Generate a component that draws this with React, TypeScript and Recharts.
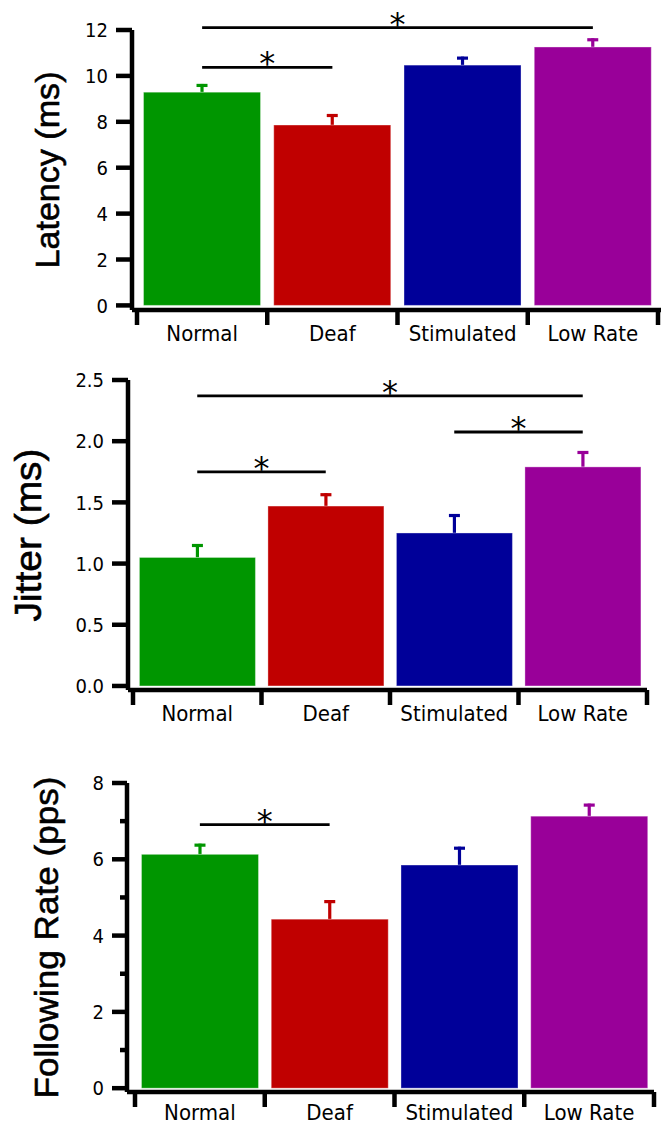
import React from 'react';
import { BarChart, Bar, XAxis, YAxis, Cell, ReferenceLine } from 'recharts';

const categories = ['Normal', 'Deaf', 'Stimulated', 'Low Rate'];
const barColors = ['#009600', '#c00000', '#000099', '#990099'];

const latencyMeans = [9.29, 7.86, 10.47, 11.26];
const latencyErrors = [0.36, 0.48, 0.37, 0.38];
const latencyTicks = [0, 2, 4, 6, 8, 10, 12];
const latencySig = [
  { from: 'Normal', to: 'Low Rate', level: 12.1 },
  { from: 'Normal', to: 'Deaf', level: 10.37 },
];

const jitterMeans = [1.05, 1.47, 1.25, 1.79];
const jitterErrors = [0.11, 0.105, 0.155, 0.13];
const jitterTicks = [0, 0.5, 1, 1.5, 2, 2.5];
const jitterSig = [
  { from: 'Normal', to: 'Low Rate', level: 2.37 },
  { from: 'Normal', to: 'Deaf', level: 1.75 },
  { from: 'Stimulated', to: 'Low Rate', level: 2.075 },
];

const followingMeans = [6.13, 4.43, 5.85, 7.13];
const followingErrors = [0.28, 0.5, 0.48, 0.33];
const followingTicks = [0, 1, 2, 3, 4, 5, 6, 7, 8];
const followingLabeledTicks = [0, 2, 4, 6, 8];
const followingSig = [{ from: 'Normal', to: 'Deaf', level: 6.91 }];

const TICK_FONT = "'DejaVu Sans Condensed', 'DejaVu Sans', sans-serif";
const LABEL_FONT = "'Liberation Sans', Arial, sans-serif";

function buildRows(means: number[], errs: number[]) {
  return categories.map((c, i) => ({ name: c, mean: means[i], err: errs[i], color: barColors[i] }));
}

const BarWithError = (props: any) => {
  const { x, y, width, height, payload } = props;
  if (x == null || !payload) return null;
  const pxPerUnit = payload.mean ? height / payload.mean : 0;
  const errTop = y - payload.err * pxPerUnit;
  const cx = x + width / 2;
  const c = payload.color;
  return (
    <g>
      <line x1={cx} x2={cx} y1={y} y2={errTop} stroke={c} strokeWidth={3.2} />
      <line x1={cx - 5.5} x2={cx + 5.5} y1={errTop + 1.5} y2={errTop + 1.5} stroke={c} strokeWidth={3.2} />
      <rect x={x} y={y} width={width} height={height} fill={c} stroke="#ffffff" strokeOpacity={0.35} strokeWidth={1} />
    </g>
  );
};

const makeYTick = (tickLen: number, minorLen: number, labeled: number[] | null, decimals: number) => (props: any) => {
  const { x, y, payload } = props;
  const v = payload.value as number;
  const isMajor = labeled ? labeled.includes(v) : true;
  const len = isMajor ? tickLen : minorLen;
  return (
    <g>
      <line x1={x - len} x2={x} y1={y} y2={y} stroke="#000" strokeWidth={4.5} />
      {isMajor && (
        <text x={x - tickLen - 8} y={y} dy="0.36em" textAnchor="end" fontFamily={TICK_FONT} fontSize={20} fill="#000">
          {v.toFixed(decimals)}
        </text>
      )}
    </g>
  );
};

const makeXTick = (labelDrop: number) => (props: any) => {
  const { x, y, payload, index } = props;
  const half = payload.offset ?? 0;
  const last = index === categories.length - 1;
  return (
    <g>
      <line x1={x - half} x2={x - half} y1={y} y2={y + 15} stroke="#000" strokeWidth={4.5} />
      {last && <line x1={x + half} x2={x + half} y1={y} y2={y + 15} stroke="#000" strokeWidth={4.5} />}
      <text x={x} y={y + labelDrop} textAnchor="middle" fontFamily={TICK_FONT} fontSize={22} fill="#000">
        {payload.value}
      </text>
    </g>
  );
};

const makeYLabel = (text: string, cxAbs: number, len: number, size: number) => (props: any) => {
  const vb = props.viewBox || {};
  const cy = vb.y + vb.height / 2;
  return (
    <text
      x={cxAbs}
      y={cy}
      transform={`rotate(-90, ${cxAbs}, ${cy})`}
      textAnchor="middle"
      dominantBaseline="central"
      fontFamily={LABEL_FONT}
      fontSize={size}
      textLength={len}
      lengthAdjust="spacingAndGlyphs"
      stroke="#000"
      strokeWidth={0.6}
      fill="#000"
    >
      {text}
    </text>
  );
};

const Asterisk = (props: any) => {
  const vb = props.viewBox || {};
  return (
    <text x={vb.x + vb.width / 2} y={vb.y + 7} textAnchor="middle" fontFamily="'DejaVu Sans', sans-serif" fontSize={32} fill="#000">
      *
    </text>
  );
};

type PanelProps = {
  top: number;
  height: number;
  marginTop: number;
  marginRight: number;
  yWidth: number;
  xHeight: number;
  padLeft: number;
  padRight: number;
  domain: [number, number];
  ticks: number[];
  tick: any;
  xTick: any;
  rows: any[];
  sig: { from: string; to: string; level: number }[];
  label: any;
};

const Panel = (p: PanelProps) => (
  <div style={{ position: 'absolute', left: 0, top: p.top }}>
    <BarChart
      width={661}
      height={p.height}
      data={p.rows}
      margin={{ top: p.marginTop, right: p.marginRight, left: 0, bottom: 0 }}
      barCategoryGap="5%"
    >
      <XAxis
        dataKey="name"
        type="category"
        height={p.xHeight}
        padding={{ left: p.padLeft, right: p.padRight }}
        axisLine={{ stroke: '#000', strokeWidth: 4.5 }}
        tickLine={false}
        tickSize={0}
        tickMargin={0}
        interval={0}
        tick={p.xTick}
      />
      <YAxis
        type="number"
        width={p.yWidth}
        domain={p.domain}
        ticks={p.ticks}
        allowDataOverflow
        interval={0}
        axisLine={{ stroke: '#000', strokeWidth: 4.5 }}
        tickLine={false}
        tickSize={0}
        tickMargin={0}
        tick={p.tick}
        label={{ content: p.label }}
      />
      <Bar dataKey="mean" isAnimationActive={false} shape={<BarWithError />}>
        {p.rows.map((r, i) => (
          <Cell key={i} fill={r.color} />
        ))}
      </Bar>
      {p.sig.map((s, i) => (
        <ReferenceLine
          key={i}
          segment={[
            { x: s.from, y: s.level },
            { x: s.to, y: s.level },
          ]}
          stroke="#000"
          strokeWidth={2.8}
          ifOverflow="visible"
          label={{ content: Asterisk }}
        />
      ))}
    </BarChart>
  </div>
);

export default function App() {
  return (
    <div style={{ position: 'absolute', left: 0, top: 0, width: 661, height: 1126, background: '#fff' }}>
      <Panel
        top={0}
        height={350}
        marginTop={30}
        marginRight={0}
        yWidth={132}
        xHeight={40}
        padLeft={5}
        padRight={3}
        domain={[-0.2, 12]}
        ticks={latencyTicks}
        tick={makeYTick(16, 16, null, 0)}
        xTick={makeXTick(31)}
        rows={buildRows(latencyMeans, latencyErrors)}
        sig={latencySig}
        label={makeYLabel('Latency (ms)', 47, 197, 34)}
      />
      <Panel
        top={350}
        height={380}
        marginTop={30}
        marginRight={14}
        yWidth={128}
        xHeight={40}
        padLeft={5}
        padRight={0}
        domain={[-0.033, 2.5]}
        ticks={jitterTicks}
        tick={makeYTick(16, 16, null, 1)}
        xTick={makeXTick(31)}
        rows={buildRows(jitterMeans, jitterErrors)}
        sig={jitterSig}
        label={makeYLabel('Jitter (ms)', 28, 173, 37)}
      />
      <Panel
        top={720}
        height={406}
        marginTop={63}
        marginRight={7}
        yWidth={127}
        xHeight={34}
        padLeft={8}
        padRight={0}
        domain={[-0.1, 8]}
        ticks={followingTicks}
        tick={makeYTick(15, 7, followingLabeledTicks, 0)}
        xTick={makeXTick(28)}
        rows={buildRows(followingMeans, followingErrors)}
        sig={followingSig}
        label={makeYLabel('Following Rate (pps)', 46, 322, 34)}
      />
    </div>
  );
}
